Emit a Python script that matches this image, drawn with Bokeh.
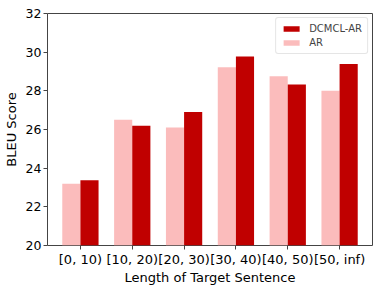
from bokeh.plotting import figure
from bokeh.models import ColumnDataSource, FactorRange, Legend, LegendItem
from bokeh.transform import dodge
from bokeh.embed import file_html
from bokeh.resources import INLINE

categories = ["[0, 10)", "[10, 20)", "[20, 30)", "[30, 40)", "[40, 50)", "[50, inf)"]
ar = [23.2, 26.5, 26.1, 29.22, 28.75, 28.0]
dcmcl_ar = [23.38, 26.2, 26.9, 29.78, 28.33, 29.39]
y_ticks = [20, 22, 24, 26, 28, 30, 32]

src = ColumnDataSource(dict(cat=categories, ar=ar, dcmcl=dcmcl_ar))

FONT = "DejaVu Sans"
p = figure(frame_width=325, frame_height=232, output_backend="svg", toolbar_location=None,
           x_range=FactorRange(factors=categories, range_padding=0.045, range_padding_units="percent"),
           y_range=(20, 32))
p.min_border_left = 46
p.min_border_right = 11
p.min_border_top = 13
p.min_border_bottom = 42

r_ar = p.vbar(x=dodge("cat", -0.175, range=p.x_range), top="ar", bottom=20, width=0.35,
              source=src, fill_color="#fbbcbc", line_color=None)
r_dc = p.vbar(x=dodge("cat", 0.175, range=p.x_range), top="dcmcl", bottom=20, width=0.35,
              source=src, fill_color="#c00000", line_color=None)

p.xgrid.visible = False
p.ygrid.visible = False
p.outline_line_color = "#444444"
p.outline_line_width = 1

for ax in (p.xaxis[0], p.yaxis[0]):
    ax.axis_line_color = None
    ax.major_tick_line_color = "#444444"
    ax.major_tick_out = 4
    ax.major_tick_in = 0
    ax.minor_tick_line_color = None
    ax.major_label_text_font = FONT
    ax.major_label_text_font_size = "13px"
    ax.major_label_text_color = "black"
    ax.axis_label_text_font = FONT
    ax.axis_label_text_font_size = "13px"
    ax.axis_label_text_font_style = "normal"
    ax.axis_label_text_color = "black"
    ax.major_label_standoff = 2

p.yaxis.ticker = y_ticks
p.yaxis.major_label_text_font_size = "12.5px"
p.yaxis.axis_label = "BLEU Score"
p.yaxis.axis_label_standoff = 4
p.xaxis.axis_label = "Length of Target Sentence"
p.xaxis.axis_label_standoff = 0
p.xaxis.major_label_orientation = "horizontal"

legend = Legend(items=[LegendItem(label="DCMCL-AR", renderers=[r_dc]),
                       LegendItem(label="AR", renderers=[r_ar])],
                location="top_right")
legend.label_text_font = FONT
legend.label_text_font_size = "10px"
legend.glyph_width = 20
legend.glyph_height = 7
legend.label_height = 10
legend.spacing = 3
legend.padding = 5
legend.margin = 4
legend.border_line_color = "#cccccc"
legend.label_standoff = 8
try:
    legend.border_radius = 3
except Exception:
    pass
p.add_layout(legend)

open("out.html", "w").write(file_html(p, INLINE))
